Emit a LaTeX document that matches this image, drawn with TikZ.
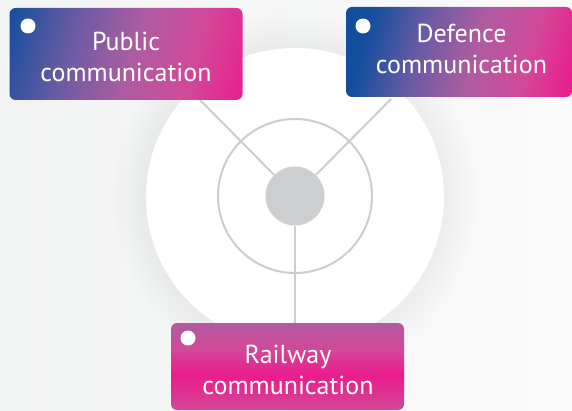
\documentclass[tikz,border=0pt]{standalone}
\usepackage{fontspec}
\setmainfont{PT Sans}
\definecolor{bgL}{HTML}{F2F3F3}
\definecolor{bgR}{HTML}{FAFAFA}
\definecolor{cblue}{HTML}{134E9E}
\definecolor{cpurple}{HTML}{6A5BA3}
\definecolor{cmauve}{HTML}{AE5CA1}
\definecolor{cpinkm}{HTML}{D24898}
\definecolor{cpink}{HTML}{EA1C8C}
\definecolor{linegray}{HTML}{CDCDCD}
\definecolor{hubgray}{HTML}{CDCECF}
\pgfdeclarehorizontalshading{pubshade}{100bp}{color(0bp)=(cblue); color(19bp)=(cblue); color(36bp)=(cpurple); color(52bp)=(cmauve); color(67bp)=(cpinkm); color(82bp)=(cpink); color(100bp)=(cpink)}
\pgfdeclarehorizontalshading{defshade}{100bp}{color(0bp)=(cblue); color(26bp)=(cblue); color(40bp)=(cpurple); color(54bp)=(cmauve); color(68bp)=(cpinkm); color(80bp)=(cpink); color(100bp)=(cpink)}
\pgfdeclareverticalshading{railshade}{100bp}{color(0bp)=(cpinkm); color(25bp)=(cpinkm); color(45bp)=(cpink); color(60bp)=(cpinkm); color(75bp)=(cmauve); color(100bp)=(cmauve)}
\begin{document}
\begin{tikzpicture}[x=1pt,y=-1pt,
  lbl/.style={text=white, align=center, font=\fontsize{26}{31.5}\selectfont, inner sep=0pt},
  card/.style={rounded corners=6pt, inner sep=0pt},
  conn/.style={draw=linegray, line width=2pt},
  ringline/.style={draw=linegray, line width=2pt},
  hole/.style={circle, fill=white, minimum size=15pt, inner sep=0pt}]
\useasboundingbox (0,0) rectangle (572,411);
\fill[left color=bgL, right color=bgR] (0,0) rectangle (572,411);
\foreach \r in {150,153,...,183} \fill[black, opacity=0.003] (295,197) circle (\r);
\fill[white] (295,197) circle (149);
\draw[ringline] (295,196) circle (77);
\coordinate (pubEnd) at (200,100);
\coordinate (defEnd) at (391,99);
\coordinate (railEnd) at (295,323);
\node[circle, fill=hubgray, minimum size=59pt, inner sep=0pt] (hub) at (295,196) {};
\draw[conn] (hub) -- (pubEnd);
\draw[conn] (hub) -- (defEnd);
\draw[conn] (hub) -- (railEnd);
\node[card, shading=pubshade, shading angle=-15, minimum width=233pt, minimum height=92pt] (pub) at (126,54) {};
\node[card, shading=defshade, shading angle=-15, minimum width=226pt, minimum height=90pt] (def) at (459,52) {};
\node[card, shading=railshade, shading angle=0, minimum width=233pt, minimum height=87pt] (rail) at (287.5,366.5) {};
\node[hole] (pubdot) at (28,26) {};
\node[hole] (defdot) at (363,26) {};
\node[hole] (raildot) at (188,338) {};
\node[lbl] (publbl) at (126,57) {Public\\communication};
\node[lbl] (deflbl) at (461.5,49) {Defence\\communication};
\node[lbl] (raillbl) at (288,370) {Railway\\communication};
\end{tikzpicture}
\end{document}
